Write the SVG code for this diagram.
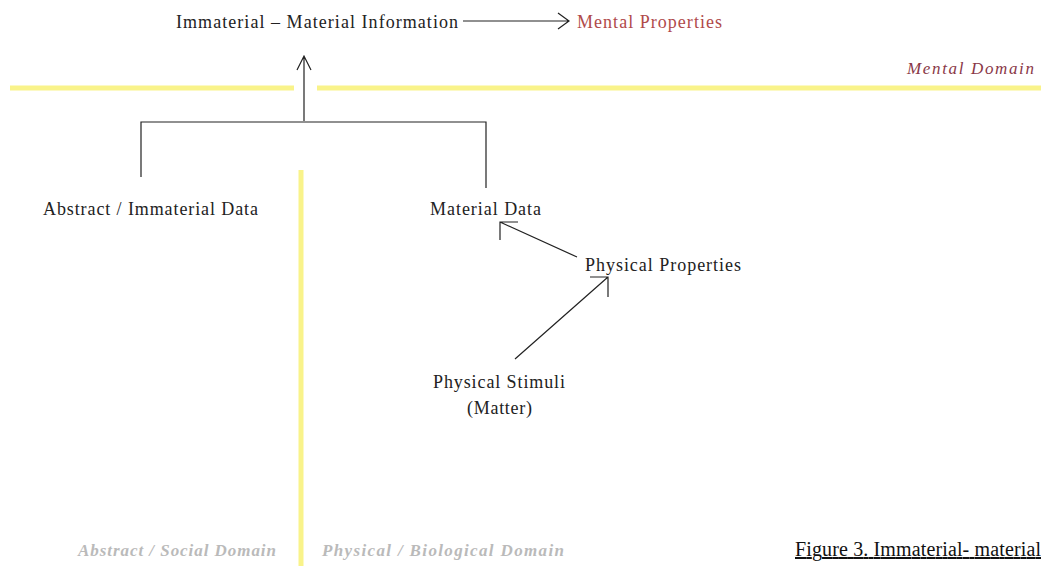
<svg xmlns="http://www.w3.org/2000/svg" width="1041" height="566" viewBox="0 0 1041 566">
<style>
.t{font-family:"Liberation Serif",serif;font-size:18px;fill:#222}
.red{fill:#b04a4a}
.dom{font-family:"Liberation Serif",serif;font-size:17px;font-style:italic}
.gray{font-family:"Liberation Serif",serif;font-size:17px;font-style:italic;font-weight:bold;fill:#bababa}
.c{stroke:#222;stroke-width:1.2;fill:none}
.y{stroke:#f9f38a;stroke-width:5;fill:none}
</style>
<rect width="1041" height="566" fill="#fff"/>
<g id="domains">
<line class="y" x1="10" y1="88" x2="294" y2="88"/>
<line class="y" x1="317" y1="88" x2="1041" y2="88"/>
<line class="y" x1="301" y1="170" x2="301" y2="566" stroke="#f8f070"/>
</g>
<g id="connectors">
<path class="c" d="M463 21 H569 M558 13 L569 21 L558 29"/>
<path class="c" d="M304 121 V56 M297 70 L304 56 L311 70"/>
<path class="c" d="M141 177 V122 H486 V188"/>
<path class="c" d="M577 257 L500 222 M518 222 H500 V240"/>
<path class="c" d="M515 359 L608 277 M590 277 H608 V297"/>
</g>
<g id="n-info"><text class="t" x="176" y="28" textLength="282" lengthAdjust="spacing">Immaterial – Material Information</text></g>
<g id="n-mental"><text class="t red" x="577" y="28" textLength="145" lengthAdjust="spacing">Mental Properties</text></g>
<g id="n-mentaldomain"><text class="dom" x="907" y="74" fill="#8a3848" textLength="127" lengthAdjust="spacing">Mental Domain</text></g>
<g id="n-abstract"><text class="t" x="43" y="215" textLength="215" lengthAdjust="spacing">Abstract / Immaterial Data</text></g>
<g id="n-material"><text class="t" x="430" y="215" textLength="111" lengthAdjust="spacing">Material Data</text></g>
<g id="n-physprop"><text class="t" x="585" y="271" textLength="156" lengthAdjust="spacing">Physical Properties</text></g>
<g id="n-stimuli"><text class="t" x="433" y="388" textLength="132" lengthAdjust="spacing">Physical Stimuli</text><text class="t" x="467" y="414" textLength="65" lengthAdjust="spacing">(Matter)</text></g>
<g id="n-absdomain"><text class="gray" x="78" y="556" textLength="198" lengthAdjust="spacing">Abstract / Social Domain</text></g>
<g id="n-physdomain"><text class="gray" x="322" y="556" textLength="242" lengthAdjust="spacing">Physical / Biological Domain</text></g>
<g id="caption"><text x="795" y="556" font-family="Liberation Serif,serif" font-size="20" fill="#111" text-decoration="underline" textLength="246" lengthAdjust="spacing">Figure 3. Immaterial- material</text></g>
</svg>
